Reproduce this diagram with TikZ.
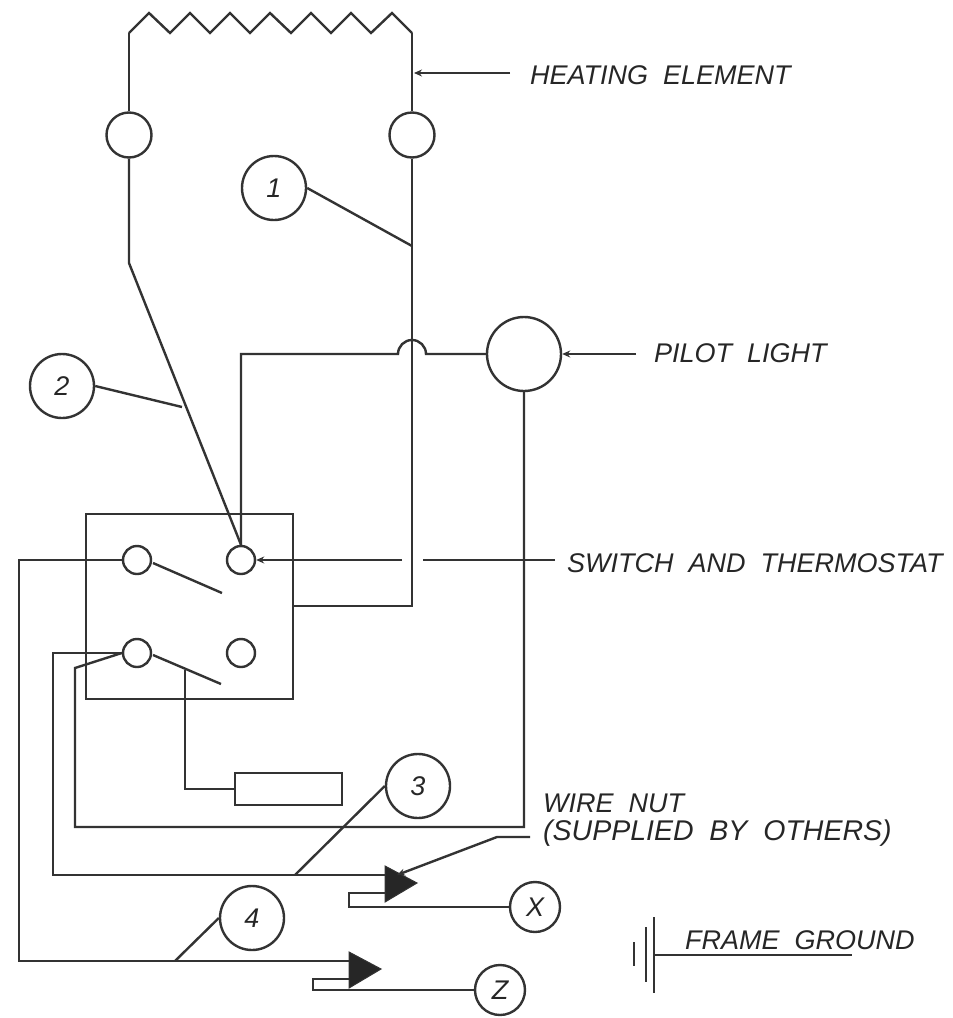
\documentclass[tikz,border=0pt]{standalone}
\usepackage{fontspec}
\setmainfont{Liberation Sans}
\usetikzlibrary{arrows.meta}
\begin{document}
\begin{tikzpicture}[x=1pt,y=-1pt,>={Stealth[length=8pt,width=7pt]},line width=2.4pt,draw=black!80,
  balloon/.style={shape=circle,draw,minimum size=64pt,inner sep=0pt,text=black!85,font=\fontsize{27}{29}\selectfont\itshape},
  terminal/.style={shape=circle,draw,minimum size=28pt,inner sep=0pt},
  lamp/.style={shape=circle,draw,minimum size=45pt,inner sep=0pt},
  caption/.style={anchor=base west,inner sep=0pt,text=black!85,font=\fontsize{27}{29}\selectfont\itshape},
  nut/.style={draw,fill=black!85,line width=1pt}]
\useasboundingbox (0,0) rectangle (953,1018);
% heater
\coordinate (h1) at (129,33);
\coordinate (h2) at (412,33);
\node (l1) at (129,135) [lamp] {};
\node (l2) at (412,135) [lamp] {};
\draw (h1) -- (149,13) -- (170,33) -- (190,13) -- (210,33) -- (230,13) -- (250,33) -- (270,13)
  -- (291,33) -- (311,13) -- (331,33) -- (351,13) -- (371,33) -- (392,13) -- (h2);
\draw (h1) -- (l1);
\draw (h2) -- (l2);
% switch box
\node (box) at (189.5,606.5) [shape=rectangle,draw,minimum width=207pt,minimum height=185pt] {};
\node (t1) at (137,560) [terminal] {};
\node (t2) at (241,560) [terminal] {};
\node (t3) at (137,653) [terminal] {};
\node (t4) at (241,653) [terminal] {};
\node (load) at (288.5,789) [shape=rectangle,draw,minimum width=107pt,minimum height=32pt] {};
\coordinate (b1) at (222,593);
\coordinate (b2) at (221,684);
\coordinate (b3) at (185,670);
\draw (t1) ++(16,3) -- (b1);
\draw (t3) ++(16,2) -- (b2);
\draw (b3) |- (load.west);
% pilot light
\node (pilot) at (524,354) [shape=circle,draw,minimum size=74pt,inner sep=0pt] {};
\coordinate (j1) at (398,354);
\draw (t2.north) -- (241,354) -- (j1) arc[start angle=180,end angle=0,radius=14pt] -- (pilot.west);
% wires
\coordinate (k1) at (129,263);
\draw (l1) -- (k1) -- (t2.north);
\coordinate (k2) at (412,606);
\draw (l2) -- (k2) -- (293,606);
\draw (pilot.south) -- (524,827) -- (75,827) -- (75,668) -- (t3.west);
\coordinate (n3a) at (385,875);
\coordinate (n4a) at (350,961);
\draw (t3.west) -- (53,653) -- (53,875) -- (n3a);
\draw (t1.west) -- (19,560) -- (19,961) -- (n4a);
\draw [nut] (385,866) -- (417,883) -- (385,902) -- cycle;
\draw [nut] (349,952) -- (381,969) -- (349,988) -- cycle;
\node (x) at (535,907) [balloon,minimum size=50pt] {X};
\node (z) at (500,990) [balloon,minimum size=50pt] {Z};
\draw (385,893) -- (349,893) -- (349,907) -- (x);
\draw (349,979) -- (313,979) -- (313,990) -- (z);
% balloons
\node (1) at (274,188) [balloon] {1};
\node (2) at (62,386) [balloon] {2};
\node (3) at (418,786) [balloon] {3};
\node (4) at (252,918) [balloon] {4};
\coordinate (c1) at (412,246);
\coordinate (c2) at (182,407);
\coordinate (c3) at (295,875);
\coordinate (c4) at (175,961);
\draw (1.east) -- (c1);
\draw (2.east) -- (c2);
\draw (3.west) -- (c3);
\draw (4.west) -- (c4);
% captions
\node (heat) at (529,84) [caption] {HEATING~~ELEMENT};
\node (light) at (653,362) [caption] {PILOT~~LIGHT};
\node (sw) at (566,572) [caption] {SWITCH~~AND~~THERMOSTAT};
\node (wn) at (542,812) [caption] {WIRE~~NUT};
\node (sup) at (542,840) [caption,font=\fontsize{28.5}{31}\selectfont\itshape] {(SUPPLIED~~BY~~OTHERS)};
\node (gnd) at (684,949) [caption] {FRAME~~GROUND};
\draw [->] (510,73) -- (414,73);
\draw [->] (636,354) -- (pilot.east);
\draw (555,560) -- (423,560);
\draw [->] (402,560) -- (t2.east);
\draw [->] (530,837) -- (497,837) -- (397,875);
% frame ground
\coordinate (g1) at (654,955);
\coordinate (g2) at (852,955);
\draw (g1) -- (g2);
\draw (654,917) -- (654,993);
\draw (646,927) -- (646,982);
\draw (634,942) -- (634,966);
\end{tikzpicture}
\end{document}
